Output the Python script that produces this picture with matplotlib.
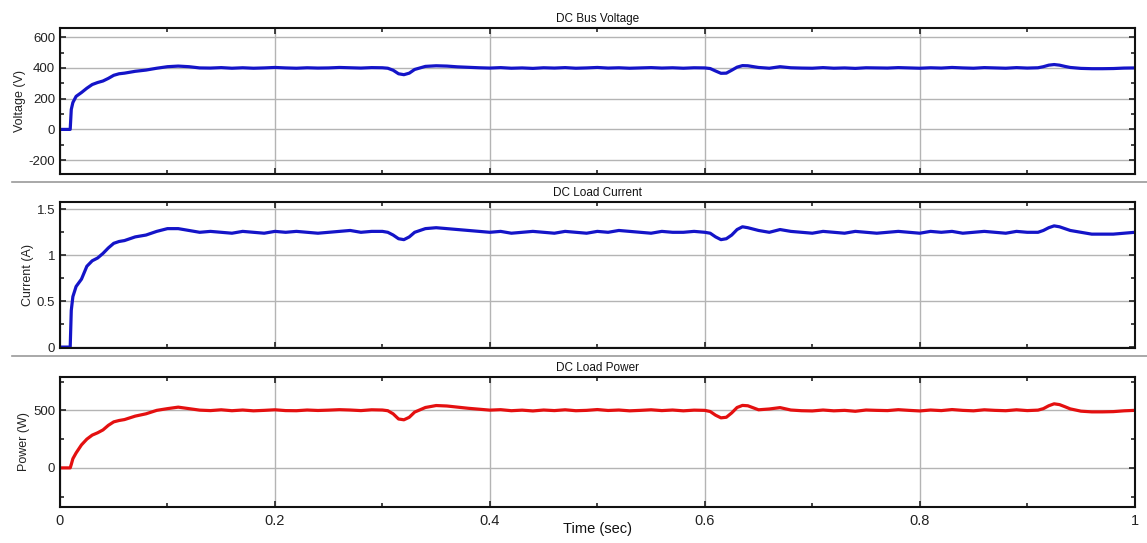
import matplotlib.pyplot as plt
from matplotlib.lines import Line2D
from matplotlib.ticker import MultipleLocator

plt.rcParams['font.family'] = ['Liberation Sans', 'DejaVu Sans']
plt.rcParams['axes.unicode_minus'] = False

# time points (s)
t = [0, 0.0095, 0.0105, 0.012, 0.015, 0.02, 0.025, 0.03, 0.035, 0.04, 0.045, 0.05, 0.055, 0.06, 0.07, 0.08, 0.09, 0.10, 0.11, 0.12,
     0.13, 0.14, 0.15, 0.16, 0.17, 0.18, 0.19, 0.20, 0.21, 0.22, 0.23, 0.24, 0.25, 0.26, 0.27, 0.28, 0.29, 0.30,
     0.305, 0.31, 0.315, 0.32, 0.325, 0.33, 0.34, 0.35, 0.36, 0.37,
     0.38, 0.39, 0.40, 0.41, 0.42, 0.43, 0.44, 0.45, 0.46, 0.47, 0.48, 0.49, 0.50, 0.51, 0.52, 0.53, 0.54, 0.55, 0.56, 0.57, 0.58, 0.59, 0.60,
     0.605, 0.61, 0.615, 0.62, 0.625, 0.63, 0.635, 0.64, 0.65, 0.66, 0.67, 0.68,
     0.69, 0.70, 0.71, 0.72, 0.73, 0.74, 0.75, 0.76, 0.77, 0.78, 0.79, 0.80, 0.81, 0.82, 0.83, 0.84, 0.85, 0.86, 0.87, 0.88, 0.89, 0.90, 0.91,
     0.915, 0.92, 0.925, 0.93, 0.935, 0.94, 0.95,
     0.96, 0.97, 0.98, 0.99, 1.0]

voltage = [0, 0, 130, 175, 215, 240, 268, 292, 305, 315, 332, 352, 362, 366, 378, 386, 398, 408, 412, 408,
           400, 399, 402, 398, 401, 398, 400, 403, 400, 398, 401, 399, 400, 403, 401, 399, 402, 401,
           398, 385, 362, 356, 366, 390, 410, 414, 412, 407,
           404, 401, 399, 402, 398, 400, 397, 401, 399, 402, 398, 400, 403, 399, 401, 398, 400, 402, 399, 401, 398, 401, 400,
           396, 380, 365, 366, 385, 405, 415, 414, 403, 398, 408, 401,
           399, 398, 402, 398, 400, 397, 401, 400, 399, 402, 400, 398, 401, 399, 403, 400, 398, 402, 400, 398, 402, 399, 401,
           408, 418, 422, 418, 410, 403, 397,
           395, 395, 396, 399, 400]

current = [0, 0, 0.40, 0.55, 0.66, 0.74, 0.88, 0.94, 0.97, 1.02, 1.08, 1.13, 1.15, 1.16, 1.20, 1.22, 1.26, 1.29, 1.29, 1.27,
           1.25, 1.26, 1.25, 1.24, 1.26, 1.25, 1.24, 1.26, 1.25, 1.26, 1.25, 1.24, 1.25, 1.26, 1.27, 1.25, 1.26, 1.26,
           1.25, 1.22, 1.18, 1.17, 1.20, 1.25, 1.29, 1.30, 1.29, 1.28,
           1.27, 1.26, 1.25, 1.26, 1.24, 1.25, 1.26, 1.25, 1.24, 1.26, 1.25, 1.24, 1.26, 1.25, 1.27, 1.26, 1.25, 1.24, 1.26, 1.25, 1.25, 1.26, 1.25,
           1.24, 1.20, 1.17, 1.18, 1.22, 1.28, 1.31, 1.30, 1.27, 1.25, 1.28, 1.26,
           1.25, 1.24, 1.26, 1.25, 1.24, 1.26, 1.25, 1.24, 1.25, 1.26, 1.25, 1.24, 1.26, 1.25, 1.26, 1.24, 1.25, 1.26, 1.25, 1.24, 1.26, 1.25, 1.25,
           1.27, 1.30, 1.32, 1.31, 1.29, 1.27, 1.25,
           1.23, 1.23, 1.23, 1.24, 1.25]

power = [0, 0, 30, 80, 130, 200, 250, 285, 305, 330, 370, 400, 412, 420, 450, 470, 500, 515, 528, 515,
         502, 498, 505, 497, 503, 496, 500, 505, 498, 497, 503, 499, 502, 506, 503, 498, 505, 503,
         497, 470, 425, 418, 440, 485, 525, 542, 538, 528,
         518, 510, 502, 506, 497, 502, 495, 503, 498, 505, 497, 500, 507, 499, 503, 496, 500, 505, 498, 503, 496, 502, 500,
         490, 458, 435, 440, 478, 525, 543, 540, 505, 512, 524, 503,
         497, 495, 503, 496, 500, 492, 503, 500, 498, 506, 500, 495, 503, 498, 507, 500, 496, 505, 500, 497, 505, 498, 502,
         515, 540, 557, 550, 532, 513, 493,
         487, 487, 489, 496, 500]

fig = plt.figure(figsize=(11.47, 5.43), dpi=100)

panels = [
    ([0.0523, 0.6796, 0.937, 0.2689], voltage, '#1414c8', 'DC Bus Voltage', 'Voltage (V)',
     (-290, 660), [-200, 0, 200, 400, 600], 100),
    ([0.0523, 0.3591, 0.937, 0.2689], current, '#1414c8', 'DC Load Current', 'Current (A)',
     (-0.01, 1.58), [0, 0.5, 1, 1.5], 0.25),
    ([0.0523, 0.0663, 0.937, 0.2394], power, '#e41010', 'DC Load Power', 'Power (W)',
     (-340, 790), [0, 500], 250),
]

axes = []
for pos, y, color, title, ylabel, ylim, yticks, yminor in panels:
    ax = fig.add_axes(pos)
    ax.plot(t, y, color=color, lw=2.3)
    ax.set_xlim(0, 1)
    ax.set_ylim(*ylim)
    ax.set_yticks(yticks)
    ax.set_xticks([0, 0.2, 0.4, 0.6, 0.8, 1])
    ax.xaxis.set_minor_locator(MultipleLocator(0.1))
    ax.yaxis.set_minor_locator(MultipleLocator(yminor))
    ax.grid(True, which='major', color='#b4b4b4', lw=1.0)
    ax.tick_params(which='both', direction='in', top=True, right=True,
                   labelsize=9.5, colors='#222222', length=4, width=1.2)
    ax.tick_params(which='minor', length=3)
    for s in ax.spines.values():
        s.set_linewidth(1.5)
        s.set_color('#111111')
    ax.set_title(title, fontsize=8.5, pad=4, color='#111111')
    ax.set_ylabel(ylabel, fontsize=9, color='#222222', labelpad=2)
    axes.append(ax)

axes[0].tick_params(labelbottom=False)
axes[1].tick_params(labelbottom=False)
axes[1].set_yticklabels(['0', '0.5', '1', '1.5'])
axes[2].set_xticklabels(['0', '0.2', '0.4', '0.6', '0.8', '1'])
axes[2].tick_params(axis='x', labelsize=10.5, pad=5)
axes[2].set_xlabel('Time (sec)', fontsize=10.5, labelpad=-4, color='#111111')

# separators between panels
for yf in [0.6648, 0.3444]:
    fig.add_artist(Line2D([0.0105, 1.0], [yf, yf], transform=fig.transFigure,
                          color='#9a9a9a', lw=1.2))

fig.savefig('out.png', dpi=100)
